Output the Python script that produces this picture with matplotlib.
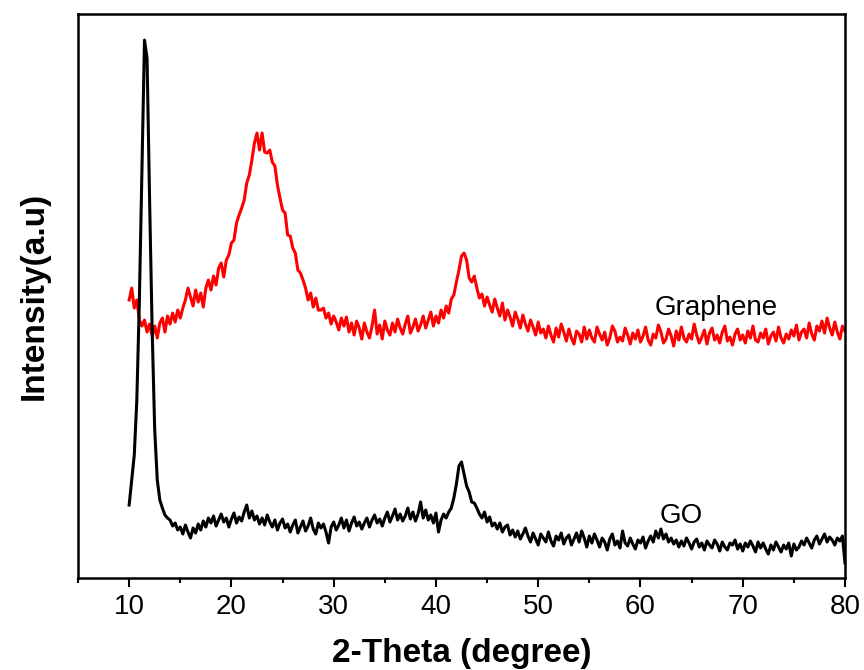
import numpy as np
import matplotlib
matplotlib.use("Agg")
import matplotlib.pyplot as plt

# 2-theta grid, 0.25 degree steps from 10 to 80
two_theta = np.arange(10, 80.001, 0.25)

# GO pattern (arb. units), 4 points per degree
go_intensity = [
    73, 98, 123, 178, 278, 410, 538, 520, 378, 248, 148, 98,      # 10-12
    78, 70, 63, 60, 58, 52, 55, 48, 51, 44, 53, 46,               # 13-15
    40, 50, 45, 54, 48, 57, 51, 60, 55, 62, 52, 58,               # 16-18
    64, 56, 60, 51, 59, 65, 55, 61, 57, 66, 73, 60,               # 19-21
    67, 58, 62, 54, 60, 53, 63, 56, 51, 58, 48, 55,               # 22-24
    59, 50, 54, 46, 53, 58, 45, 51, 57, 47, 52, 60,               # 25-27
    49, 44, 55, 50, 54, 46, 35, 51, 56, 48, 53, 60,               # 28-30
    50, 58, 47, 55, 61, 52, 56, 49, 55, 60, 51, 58,               # 31-33
    63, 55, 59, 52, 60, 66, 56, 62, 69, 58, 64, 57,               # 34-36
    62, 70, 59, 66, 57, 64, 76, 60, 68, 58, 63, 55,               # 37-39
    65, 46, 58, 64, 60, 66, 70, 80, 94, 112, 116, 104,            # 40-42
    92, 86, 76, 75, 70, 64, 60, 66, 56, 61, 52, 55,               # 43-45
    49, 55, 46, 51, 53, 43, 48, 41, 47, 39, 44, 50,               # 46-48
    42, 36, 45, 39, 33, 44, 40, 36, 46, 37, 32, 42,               # 49-51
    38, 45, 34, 40, 43, 33, 39, 45, 36, 47, 40, 31,               # 52-54
    42, 35, 44, 38, 31, 40, 36, 28, 39, 44, 33, 37,               # 55-57
    30, 47, 35, 32, 40, 34, 29, 38, 35, 41, 30, 37,               # 58-60
    42, 36, 47, 40, 49, 39, 44, 36, 40, 34, 38, 31,               # 61-63
    37, 32, 40, 35, 29, 36, 39, 31, 35, 28, 37, 33,               # 64-66
    30, 38, 34, 27, 36, 31, 28, 35, 33, 38, 29, 34,               # 67-69
    27, 35, 31, 37, 32, 26, 36, 30, 35, 29, 24, 33,               # 70-72
    28, 36, 31, 26, 33, 29, 35, 22, 34, 28, 31, 37,               # 73-75
    33, 40, 35, 30, 38, 42, 34, 39, 44, 36, 41, 38,               # 76-78
    33, 40, 37, 42, 15,                                           # 79-80
]

# Graphene pattern (arb. units, stacked above GO)
graphene_intensity = [
    278, 290, 270, 278, 258, 252, 258, 246, 254, 242, 252, 240,   # 10-12
    255, 260, 246, 262, 254, 265, 256, 268, 260, 270, 278, 290,   # 13-15
    281, 272, 288, 276, 285, 271, 290, 298, 288, 302, 293, 310,   # 16-18
    315, 301, 318, 323, 335, 338, 355, 363, 370, 378, 395, 403,   # 19-21
    418, 435, 445, 428, 445, 426, 425, 428, 416, 412, 393, 380,   # 22-24
    368, 365, 343, 342, 330, 325, 308, 305, 298, 290, 278, 285,   # 25-27
    271, 280, 268, 268, 270, 260, 265, 254, 262, 256, 248, 260,   # 28-30
    252, 261, 246, 255, 243, 257, 250, 239, 255, 246, 240, 252,   # 31-33
    268, 244, 253, 239, 257, 248, 243, 255, 246, 259, 250, 244,   # 34-36
    254, 262, 245, 251, 259, 247, 253, 262, 250, 258, 266, 252,   # 37-39
    262, 255, 268, 260, 272, 265, 279, 283, 296, 308, 322, 325,   # 40-42
    318, 300, 296, 302, 290, 280, 284, 272, 281, 273, 266, 279,   # 43-45
    270, 262, 275, 258, 268, 261, 252, 266, 259, 250, 263, 254,   # 46-48
    247, 258, 251, 243, 256, 245, 249, 240, 252, 243, 236, 250,   # 49-51
    241, 254, 246, 237, 249, 240, 234, 247, 244, 236, 251, 239,   # 52-54
    248, 240, 236, 251, 244, 238, 246, 233, 240, 252, 247, 236,   # 55-57
    241, 237, 250, 243, 234, 245, 239, 248, 236, 242, 251, 238,   # 58-60
    233, 244, 240, 253, 246, 235, 239, 249, 242, 232, 247, 238,   # 61-63
    251, 240, 236, 244, 239, 254, 243, 235, 241, 248, 234, 245,   # 64-66
    250, 238, 243, 235, 246, 252, 237, 241, 233, 244, 249, 238,   # 67-69
    243, 235, 247, 240, 252, 238, 236, 245, 240, 249, 234, 242,   # 70-72
    246, 237, 251, 240, 235, 244, 239, 248, 242, 253, 238, 246,   # 73-75
    249, 240, 255, 244, 238, 252, 247, 257, 245, 260, 250, 243,   # 76-78
    256, 246, 239, 252, 247,                                      # 79-80
]

x_ticks = [10, 20, 30, 40, 50, 60, 70, 80]
x_minor = [5, 15, 25, 35, 45, 55, 65, 75]

plt.rcParams['font.family'] = ['Liberation Sans', 'DejaVu Sans']

fig = plt.figure(figsize=(8.64, 6.70), dpi=100)
ax = fig.add_axes([0.0903, 0.1373, 0.8877, 0.8417])

ax.plot(two_theta, graphene_intensity, color='red', linewidth=2.2)
ax.plot(two_theta, go_intensity, color='black', linewidth=2.2)

ax.text(61.4, 270, "Graphene", fontsize=20, va='center', ha='left')
ax.text(61.9, 62, "GO", fontsize=20, va='center', ha='left')

ax.set_xlim(5, 80)
ax.set_ylim(0, 564)
ax.set_xticks(x_ticks)
ax.set_xticks(x_minor, minor=True)
ax.set_yticks([])
ax.tick_params(axis='x', which='major', direction='out', length=6.5, width=1.5,
               labelsize=20, pad=5, top=False)
ax.tick_params(axis='x', which='minor', direction='out', length=3.5, width=1.5, top=False)

for sp in ax.spines.values():
    sp.set_linewidth(1.8)

ax.set_xlabel("2-Theta (degree)", fontsize=24, fontweight='bold', labelpad=13)
ax.set_ylabel("Intensity(a.u)", fontsize=24, fontweight='bold', labelpad=20)

fig.savefig("out.png", dpi=100)
